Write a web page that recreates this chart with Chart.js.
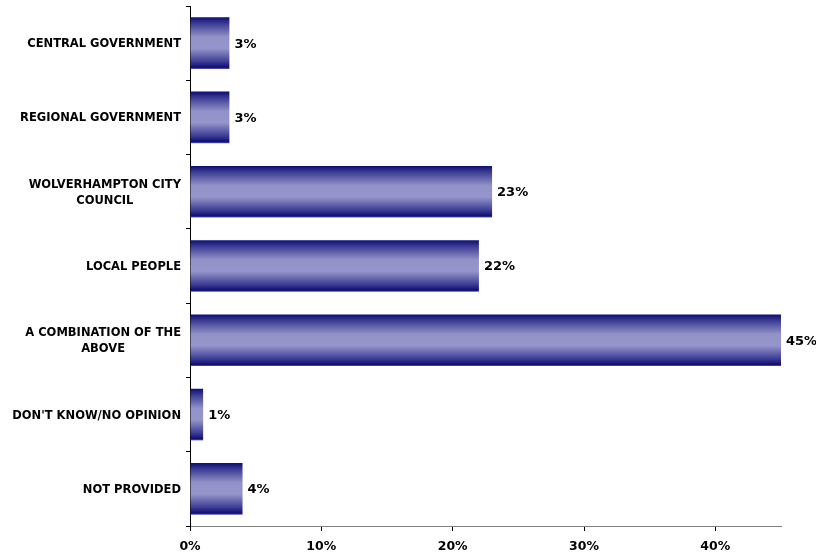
<!DOCTYPE html>
<html>
<head>
<meta charset="utf-8">
<script src="https://cdn.jsdelivr.net/npm/chart.js@4/dist/chart.umd.min.js"></script>
<style>
  html, body { margin: 0; padding: 0; background: #ffffff; }
  #wrap { width: 816px; height: 553px; }
</style>
</head>
<body>
<div id="wrap"><canvas id="chart"></canvas></div>
<script>
const categories = [
  ["CENTRAL GOVERNMENT"],
  ["REGIONAL GOVERNMENT"],
  ["WOLVERHAMPTON CITY", "COUNCIL"],
  ["LOCAL PEOPLE"],
  ["A COMBINATION OF THE", "ABOVE"],
  ["DON'T KNOW/NO OPINION"],
  ["NOT PROVIDED"],
];
const shares = [3, 3, 23, 22, 45, 1, 4];
const xTicks = [0, 10, 20, 30, 40];

const BAR_PCT = 0.695;
const LABEL_FONT = "bold 11.5px 'DejaVu Sans', Verdana, sans-serif";
const VALUE_FONT = "bold 13px 'DejaVu Sans', Verdana, sans-serif";

// vertical navy-lavender shading, one gradient per bar
function barShade(context) {
  const chart = context.chart;
  const yScale = chart.scales.y;
  if (!chart.chartArea || !yScale || context.dataIndex === undefined) return "#9696cc";
  const cy = yScale.getPixelForValue(context.dataIndex);
  const half = (yScale.height / categories.length) * BAR_PCT / 2;
  const g = chart.ctx.createLinearGradient(0, cy - half, 0, cy + half);
  g.addColorStop(0, "#0e0e74");
  g.addColorStop(0.12, "#3c3c94");
  g.addColorStop(0.38, "#9292c8");
  g.addColorStop(0.6, "#9696cc");
  g.addColorStop(0.86, "#3c3c94");
  g.addColorStop(0.97, "#0e0e74");
  g.addColorStop(1, "#5a5ab4");
  return g;
}

// category names (multi-line ones centred on their widest line) and value labels
const textLayer = {
  id: "textLayer",
  afterDatasetsDraw(chart) {
    const ctx = chart.ctx;
    const yScale = chart.scales.y;
    const meta = chart.getDatasetMeta(0);
    ctx.save();
    ctx.fillStyle = "#000000";
    ctx.textBaseline = "middle";

    ctx.font = LABEL_FONT;
    ctx.textAlign = "center";
    const rightEdge = chart.chartArea.left - 9;
    const lineH = 16;
    categories.forEach((lines, i) => {
      const cy = yScale.getPixelForValue(i) + 1;
      const w = Math.max(...lines.map((l) => ctx.measureText(l).width));
      const cx = rightEdge - w / 2;
      const y0 = cy - ((lines.length - 1) * lineH) / 2;
      lines.forEach((l, k) => ctx.fillText(l, cx, y0 + k * lineH));
    });

    ctx.font = VALUE_FONT;
    ctx.textAlign = "left";
    meta.data.forEach((bar, i) => {
      ctx.fillText(shares[i] + "%", bar.x + 5, bar.y + 1);
    });
    ctx.restore();
  },
};

new Chart(document.getElementById("chart"), {
  type: "bar",
  data: {
    labels: categories.map((c) => c.join(" ")),
    datasets: [
      {
        data: shares,
        backgroundColor: barShade,
        borderWidth: 0,
        categoryPercentage: 1,
        barPercentage: BAR_PCT,
      },
    ],
  },
  options: {
    indexAxis: "y",
    responsive: true,
    maintainAspectRatio: false,
    animation: false,
    layout: { padding: { top: 6, right: 35, left: 0, bottom: 0 } },
    plugins: {
      legend: { display: false },
      tooltip: { enabled: false },
    },
    scales: {
      x: {
        min: 0,
        max: 45,
        afterBuildTicks(scale) {
          scale.ticks = xTicks.map((v) => ({ value: v }));
        },
        afterFit(scale) {
          scale.height = 27;
        },
        ticks: {
          callback: (v) => v + "%",
          color: "#000000",
          font: { family: "'DejaVu Sans', Verdana, sans-serif", size: 12.5, weight: "bold" },
          padding: 8,
          maxRotation: 0,
        },
        grid: {
          drawOnChartArea: false,
          drawTicks: true,
          tickLength: 5,
          color: "#000000",
        },
        border: { color: "#808080", width: 1 },
      },
      y: {
        offset: true,
        afterFit(scale) {
          scale.width = 190;
        },
        ticks: { display: false },
        grid: {
          offset: true,
          drawOnChartArea: false,
          drawTicks: true,
          tickLength: 4,
          color: "#000000",
        },
        border: { color: "#000000", width: 1 },
      },
    },
  },
  plugins: [textLayer],
});
</script>
</body>
</html>
